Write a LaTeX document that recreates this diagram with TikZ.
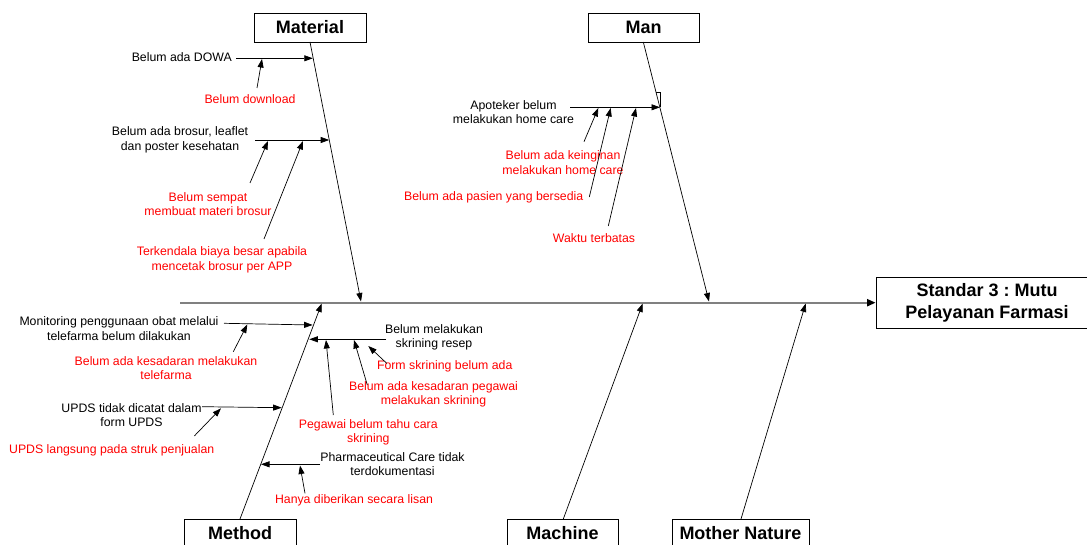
\documentclass[tikz,border=0pt]{standalone}
\usepackage{fontspec}
\setmainfont{Liberation Sans}
\usetikzlibrary{arrows.meta}
\frenchspacing
\tikzset{
  cat/.style={draw=black, line width=0.8pt, fill=white, inner sep=0pt, font=\fontsize{18}{21.6}\selectfont\bfseries, align=center},
  lbl/.style={inner sep=0pt, align=center, font=\fontsize{12.3}{14.5}\selectfont, text=black},
  rlbl/.style={lbl, text=red},
  bone/.style={line width=0.7pt, -{Triangle[length=8.5pt,width=6pt]}},
  sub/.style={line width=0.7pt, -{Triangle[length=8.5pt,width=6pt]}},
  spine/.style={line width=2pt, draw=black!50, -{Triangle[length=8.5pt,width=7pt,color=black]}}
}
\begin{document}
\begin{tikzpicture}[x=1pt,y=-1pt]
\useasboundingbox (0,0) rectangle (1087,545);
\begin{scope}
\clip (0,0) rectangle (1087,545);
% category boxes
\node[cat, minimum width=112pt, minimum height=29pt] (mat) at (310,27.5) {Material};
\node[cat, minimum width=111pt, minimum height=29pt] (man) at (643.5,27.5) {Man};
\node[cat, minimum width=112pt, minimum height=29pt] (met) at (240,533.5) {Method};
\node[cat, minimum width=111pt, minimum height=29pt] (mac) at (562.5,533.5) {Machine};
\node[cat, minimum width=137pt, minimum height=29pt] (mot) at (740.5,533.5) {Mother Nature};
\node[cat, minimum width=222pt, minimum height=51pt] (eff) at (987,302.7) {Standar 3 : Mutu\\Pelayanan Farmasi};

% spine
\coordinate (sp0) at (180,302.7);
\draw[spine] (sp0) -- (eff.west);

% main bones
\coordinate (matT) at (361,301.5);
\coordinate (manT) at (709,301.5);
\coordinate (metT) at (321.7,303.5);
\coordinate (macT) at (642.7,303.5);
\coordinate (motT) at (805.7,303.5);
\coordinate (matS) at (310,42);
\coordinate (manS) at (643.3,42);
\coordinate (metS) at (240,519);
\coordinate (macS) at (563.3,519);
\coordinate (motS) at (741,519);
\draw[bone] (matS) -- (matT);
\draw[bone] (manS) -- (manT);
\draw[bone] (metS) -- (metT);
\draw[bone] (macS) -- (macT);
\draw[bone] (motS) -- (motT);

% ---------- Material ----------
\node[lbl, anchor=east] (m1) at (232,57) {Belum ada DOWA};
\coordinate (m1a) at (236,58.3);
\coordinate (m1b) at (312.8,58.3);
\draw[sub] (m1a) -- (m1b);
\node[rlbl] (m1r) at (250,99) {Belum download};
\coordinate (m1ra) at (257,88);
\coordinate (m1rb) at (262,59);
\draw[sub] (m1ra) -- (m1rb);

\node[lbl] (m2) at (180,140) {Belum ada brosur, leaflet\\dan poster kesehatan};
\coordinate (m2a) at (255,140);
\coordinate (m2b) at (329.2,140);
\draw[sub] (m2a) -- (m2b);
\node[rlbl] (m2r1) at (208,204) {Belum sempat\\membuat materi brosur};
\coordinate (m2r1a) at (250,183);
\coordinate (m2r1b) at (268,141);
\draw[sub] (m2r1a) -- (m2r1b);
\node[rlbl] (m2r2) at (222,260) {Terkendala biaya besar apabila\\mencetak brosur per APP};
\coordinate (m2r2a) at (264,239);
\coordinate (m2r2b) at (303,141);
\draw[sub] (m2r2a) -- (m2r2b);

% ---------- Man ----------
\node[lbl] (a1) at (513.5,112) {Apoteker belum\\melakukan home care};
\coordinate (a1a) at (570,107.3);
\coordinate (a1b) at (660,107.3);
\draw[sub] (a1a) -- (a1b);
\coordinate (hk1) at (656,92.7);
\coordinate (hk2) at (660,92.7);
\coordinate (hk3) at (660,106.7);
\draw[line width=0.5pt] (hk1) -- (hk2) -- (hk3);
\node[rlbl] (a1r1) at (563,162.5) {Belum ada keinginan\\melakukan home care};
\coordinate (a1r1a) at (584,141.7);
\coordinate (a1r1b) at (598.3,108);
\draw[sub] (a1r1a) -- (a1r1b);
\node[rlbl] (a1r2) at (493.7,197) {Belum ada pasien yang bersedia};
\coordinate (a1r2a) at (589.3,197);
\coordinate (a1r2b) at (610.7,108);
\draw[sub] (a1r2a) -- (a1r2b);
\node[rlbl] (a1r3) at (594,238) {Waktu terbatas};
\coordinate (a1r3a) at (608.3,226);
\coordinate (a1r3b) at (636,108);
\draw[sub] (a1r3a) -- (a1r3b);

% ---------- Method ----------
\node[lbl] (t1) at (119,328.7) {Monitoring penggunaan obat melalui\\telefarma belum dilakukan};
\coordinate (t1a) at (224,323.3);
\coordinate (t1b) at (312.6,325);
\draw[sub] (t1a) -- (t1b);
\node[rlbl] (t1r) at (166,368.3) {Belum ada kesadaran melakukan\\telefarma};
\coordinate (t1ra) at (233.3,351.7);
\coordinate (t1rb) at (247.3,324.5);
\draw[sub] (t1ra) -- (t1rb);

\node[lbl] (t2) at (131.5,415) {UPDS tidak dicatat dalam\\form UPDS};
\coordinate (t2a) at (202,406.7);
\coordinate (t2b) at (281.7,407.7);
\draw[sub] (t2a) -- (t2b);
\node[rlbl] (t2r) at (111.7,450) {UPDS langsung pada struk penjualan};
\coordinate (t2ra) at (194.3,436);
\coordinate (t2rb) at (221,408.3);
\draw[sub] (t2ra) -- (t2rb);

\node[lbl] (t3) at (392.5,464.2) {Pharmaceutical Care tidak\\terdokumentasi};
\coordinate (t3a) at (320,464.3);
\coordinate (t3b) at (261,464.3);
\draw[sub] (t3a) -- (t3b);
\node[rlbl] (t3r) at (354,500) {Hanya diberikan secara lisan};
\coordinate (t3ra) at (305,493.3);
\coordinate (t3rb) at (300,465.5);
\draw[sub] (t3ra) -- (t3rb);

\node[lbl] (t4) at (434,337.5) {Belum melakukan\\skrining resep};
\coordinate (t4a) at (386,339.3);
\coordinate (t4b) at (309.3,339.3);
\draw[sub] (t4a) -- (t4b);
\node[rlbl] (t4r1) at (444.7,366) {Form skrining belum ada};
\coordinate (t4r1a) at (386.7,363.3);
\coordinate (t4r1b) at (368.3,346);
\draw[sub] (t4r1a) -- (t4r1b);
\node[rlbl] (t4r2) at (433.5,394.5) {Belum ada kesadaran pegawai\\melakukan skrining};
\coordinate (t4r2a) at (367.3,385);
\coordinate (t4r2b) at (354,340);
\draw[sub] (t4r2a) -- (t4r2b);
\node[rlbl] (t4r3) at (368.3,432.5) {Pegawai belum tahu cara\\skrining};
\coordinate (t4r3a) at (333.3,415);
\coordinate (t4r3b) at (326,340);
\draw[sub] (t4r3a) -- (t4r3b);
\end{scope}
\end{tikzpicture}
\end{document}
